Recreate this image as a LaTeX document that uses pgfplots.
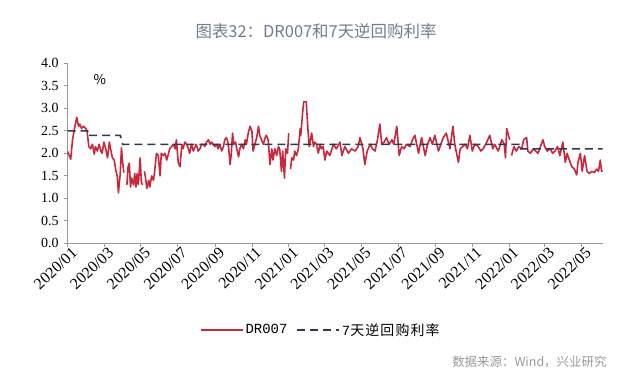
\documentclass[border=0pt]{standalone}
\usepackage{fontspec}
\setmainfont{Liberation Serif}
\newfontfamily\cjk{Noto Sans CJK SC}
\newfontfamily\cjkls[LetterSpace=8]{Noto Sans CJK SC}
\newfontfamily\lmono{Liberation Mono}
\usepackage{pgfplots}
\usepackage{pgfplotstable}
\pgfplotsset{compat=1.18}
\definecolor{drred}{HTML}{C8283C}
\definecolor{repo}{HTML}{2B3A52}
\definecolor{ttl}{HTML}{6E7E8E}
\definecolor{src}{HTML}{9A9A9A}

\pgfplotstableread{
d v
0 2.04
5 1.87
8 2.30
12 2.60
15 2.80
18 2.60
20 2.65
23 2.55
26 2.60
30 2.55
32 2.50
35 2.15
38 2.10
41 2.20
44 1.98
46 2.15
49 2.05
52 2.20
55 2.05
57 2.00
60 2.25
63 2.10
66 1.90
69 2.25
71 2.10
74 1.90
77 1.85
80 1.60
82 1.50
84 1.12
87 1.55
89 2.12
91 1.80
93 1.57
95 nan
98 1.30
100 1.70
102 1.78
104 1.25
106 1.45
109 1.30
111 1.55
113 1.25
115 1.55
117 1.30
120 1.90
122 1.35
124 1.30
125 nan
127 1.60
129 1.45
131 1.22
134 1.40
136 1.25
139 1.50
142 1.40
144 1.60
147 2.00
150 1.95
153 1.50
155 2.00
158 1.95
161 2.00
164 1.85
167 2.00
169 2.10
172 2.15
175 2.20
178 2.10
180 2.30
183 1.80
186 1.70
189 2.20
191 2.10
194 2.25
197 2.20
200 2.10
202 2.00
205 2.20
208 2.05
211 2.15
213 2.20
216 2.05
219 2.10
222 2.20
225 2.20
227 2.15
230 2.25
233 2.30
236 2.20
238 2.25
241 2.20
244 2.15
247 2.20
249 2.10
252 2.20
255 2.05
258 2.15
260 2.30
263 2.35
266 2.20
269 1.75
271 2.00
273 2.45
275 2.20
278 2.25
280 2.10
283 1.92
285 2.10
288 2.20
291 2.10
294 2.30
296 2.20
299 2.45
302 2.60
305 2.50
307 2.05
310 2.20
313 2.35
316 2.60
318 2.40
321 2.30
324 2.20
327 2.35
329 2.40
332 2.30
335 1.75
338 2.10
340 1.85
343 2.10
346 1.95
349 2.15
351 2.10
354 1.60
356 2.05
359 1.45
361 2.10
364 2.00
366 2.45
367 nan
369 1.65
371 1.90
374 1.85
376 2.05
379 1.95
382 2.10
385 2.55
386 2.40
389 2.90
391 3.15
395 3.15
398 2.50
400 2.15
402 2.30
404 2.45
407 2.15
409 2.25
412 2.20
415 2.00
418 2.20
420 2.10
423 2.15
426 1.85
429 2.05
434 1.95
440 2.20
445 2.10
451 2.25
454 1.95
459 2.15
465 2.00
470 2.10
476 2.05
481 2.15
484 2.35
489 2.10
492 1.75
496 2.05
501 2.20
505 2.10
509 2.05
513 2.30
517 2.65
520 2.20
524 2.25
528 2.35
532 2.20
537 2.30
540 2.20
545 2.60
549 1.95
553 2.15
557 2.10
561 2.20
567 2.15
571 2.30
575 2.40
581 2.00
586 2.35
592 1.95
596 2.20
600 2.35
604 2.20
608 2.40
614 2.05
618 2.20
622 2.35
627 2.45
633 2.10
638 2.60
641 2.20
644 2.00
647 1.80
650 2.10
654 2.15
658 2.20
662 2.10
666 2.40
670 2.05
674 2.20
680 2.15
684 2.05
688 2.10
694 2.25
699 2.40
704 2.10
707 2.20
713 2.05
719 2.30
723 2.20
725 1.90
727 2.55
729 2.45
732 2.30
733 nan
735 1.95
739 2.15
743 2.05
747 2.15
752 2.10
755 2.30
760 2.35
762 2.05
766 2.00
771 2.10
775 2.05
779 2.00
783 2.15
787 2.30
790 2.15
794 2.05
799 2.10
803 2.00
807 2.05
811 2.15
815 1.95
820 2.25
824 1.80
827 2.00
832 1.80
835 1.70
839 1.65
843 1.52
845 1.80
849 2.00
852 1.60
856 1.95
860 1.60
864 1.55
868 1.60
872 1.57
876 1.65
879 1.60
882 1.85
884 1.60
886 1.62
}\drdata

\pgfplotstableread{
d v
0 2.5
33 2.5
33 2.4
87 2.4
91 2.2
747 2.2
747 2.1
886 2.1
}\repodata

\begin{document}
\begin{tikzpicture}[x=1bp,y=1bp]
\path[use as bounding box] (0,0) rectangle (640,376);
\begin{axis}[
  at={(67.7bp,132.7bp)}, anchor=south west,
  scale only axis, width=535.6bp, height=180bp,
  xmin=0, xmax=887, ymin=0, ymax=4,
  axis x line=bottom, axis y line=left,
  axis line style={-, draw=gray!80, line width=0.7bp},
  xtick={0,60,121,182,244,305,366,425,486,547,609,670,731,790,851},
  xticklabels={2020/01,2020/03,2020/05,2020/07,2020/09,2020/11,2021/01,2021/03,2021/05,2021/07,2021/09,2021/11,2022/01,2022/03,2022/05},
  ytick={0,0.5,...,4},
  yticklabel style={font=\fontsize{14}{14}\selectfont, inner sep=2bp, xshift=-3bp, /pgf/number format/.cd, fixed, fixed zerofill, precision=1},
  /pgf/number format/assume math mode=true,
  tick align=outside, major tick length=4bp,
  tick style={gray!80, line width=0.7bp},
  xticklabel style={font=\fontsize{16}{16}\selectfont, rotate=43, anchor=north east, inner sep=1.5bp, xshift=4.5bp},
  legend style={at={(0.4725,-0.482)}, anchor=center, draw=none, legend columns=2,
    font=\fontsize{14}{14}\selectfont, inner sep=0pt,
    /tikz/every even column/.append style={column sep=7bp}},
  legend image code/.code={\draw[#1] (0bp,0bp) -- (42bp,0bp);},
  legend cell align=left,
  unbounded coords=jump,
  clip=false,
]
\addplot[drred, line width=1.6bp, line join=round] table[x=d,y=v] {\drdata};
\addlegendentry{\lmono DR007}
\addplot[repo, line width=1.6bp, dash pattern=on 8bp off 5bp] table[x=d,y=v] {\repodata};
\addlegendentry{{\lmono 7}{\cjkls 天逆回购利率}}
\node[font=\cjk\fontsize{13.5}{13.5}\selectfont] at (axis cs:53,3.63) {\%};
\end{axis}
\node[font=\cjk\fontsize{16.5}{17}\selectfont, text=ttl] at (316,345) {图表32：DR007和7天逆回购利率};
\node[font=\cjk\fontsize{12.5}{12.5}\selectfont, text=src, anchor=east] at (610,14) {数据来源：Wind，兴业研究};
\end{tikzpicture}
\end{document}
